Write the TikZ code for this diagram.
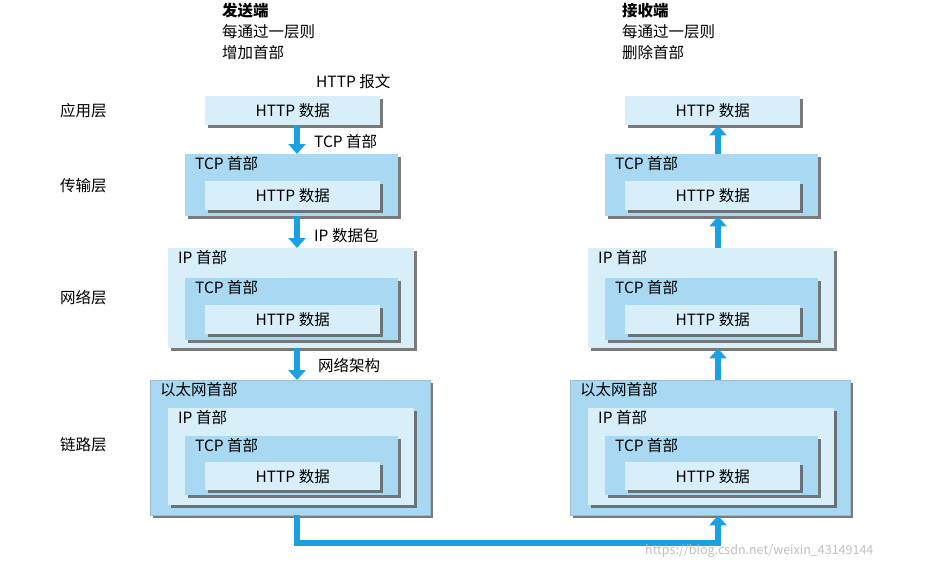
\documentclass[tikz,border=0pt]{standalone}
\usepackage{fontspec}
\setmainfont{Noto Sans CJK SC}
\usetikzlibrary{positioning,shadows,arrows.meta}
\definecolor{boxdark}{HTML}{A9D9F2}
\definecolor{boxlight}{HTML}{D8EFFA}
\definecolor{arrowblue}{HTML}{1BA1E2}
\tikzset{
  lay/.style={draw=none,anchor=north west,inner sep=0pt,
    drop shadow={shadow xshift=3pt,shadow yshift=-3pt,fill=gray!70!black,opacity=.8}},
  dbox/.style={lay,fill=boxdark},
  lbox/.style={lay,fill=boxlight},
  hd/.style={label={[anchor=north west,inner sep=0pt,xshift=10pt,yshift=-2pt]north west:#1}},
  txt/.style={inner sep=0pt,anchor=west},
  barrow/.style={arrowblue,line width=5.5pt,-{Triangle[width=17pt,length=10pt]}}
}
\begin{document}
\begin{tikzpicture}[x=1pt,y=-1pt,font=\fontsize{15.5}{18}\selectfont]
	\useasboundingbox (0,0) rectangle (928,568);

	% titles
	\node[txt,anchor=north west,font=\fontsize{15.5}{18}\selectfont\bfseries] (sendT) at (222,3) {发送端};
	\node[txt,anchor=north west] (sendA) at (222,24) {每通过一层则};
	\node[txt,anchor=north west] (sendB) at (222,45) {增加首部};
	\node[txt,anchor=north west,font=\fontsize{15.5}{18}\selectfont\bfseries] (recvT) at (622,3) {接收端};
	\node[txt,anchor=north west] (recvA) at (622,24) {每通过一层则};
	\node[txt,anchor=north west] (recvB) at (622,45) {删除首部};

	% layer names
	\node[txt] (appN) at (60,111) {应用层};
	\node[txt] (tcpN) at (60,186) {传输层};
	\node[txt] (ipN) at (60,298) {网络层};
	\node[txt] (ethN) at (60,445) {链路层};

	% both stacks
	\foreach \dx/\s in {0/L,420/R}{
		\node[lbox,minimum width=175,minimum height=29] (app\s) at (205+\dx,96) {HTTP 数据};

		\node[dbox,minimum width=213,minimum height=62,hd=TCP 首部] (tcp\s) at (185+\dx,154) {};
		\node[lbox,minimum width=175,minimum height=29] (tcpH\s) at (205+\dx,181) {HTTP 数据};

		\node[lbox,minimum width=246,minimum height=100,hd=IP 首部] (ip\s) at (168+\dx,248) {};
		\node[dbox,minimum width=213,minimum height=62,hd=TCP 首部] (ipT\s) at (185+\dx,278) {};
		\node[lbox,minimum width=175,minimum height=29] (ipH\s) at (205+\dx,305) {HTTP 数据};

		\node[dbox,draw=boxdark!70!gray,minimum width=280,minimum height=135,hd=以太网首部] (eth\s) at (150+\dx,380) {};
		\node[lbox,minimum width=246,minimum height=97,hd=IP 首部] (ethI\s) at (168+\dx,408) {};
		\node[dbox,minimum width=213,minimum height=59,hd=TCP 首部] (ethT\s) at (185+\dx,436) {};
		\node[lbox,minimum width=175,minimum height=28] (ethH\s) at (205+\dx,462) {HTTP 数据};
	}

	\coordinate (aL) at (297,0);
	\coordinate (aR) at (718,0);
	\coordinate (lowL) at (297,543);
	\coordinate (lowR) at (718,543);

	% sending side
	\node[txt] (msg) at (316,82) {HTTP 报文};
	\draw[barrow] (appL.south -| aL) -- (tcpL.north -| aL);
	\draw[barrow] (tcpL.south -| aL) -- (ipL.north -| aL);
	\draw[barrow] (ipL.south -| aL) -- (ethL.north -| aL);
	\node[txt] (segT) at (314,142) {TCP 首部};
	\node[txt] (segI) at (314,236) {IP 数据包};
	\node[txt] (segE) at (318,366) {网络架构};

	% receiving side
	\draw[barrow] (ethR.north -| aR) -- (ipR.south -| aR);
	\draw[barrow] (ipR.north -| aR) -- (tcpR.south -| aR);
	\draw[barrow] (tcpR.north -| aR) -- (appR.south -| aR);

	% wire
	\draw[barrow] (ethL.south -| aL) -- (lowL) -- (lowR) -- (ethR.south -| aR);

	\node[txt,text=gray!50,font=\fontsize{12.5}{14}\selectfont] (mark) at (645,551) {https://blog.csdn.net/weixin\_43149144};
\end{tikzpicture}
\end{document}
